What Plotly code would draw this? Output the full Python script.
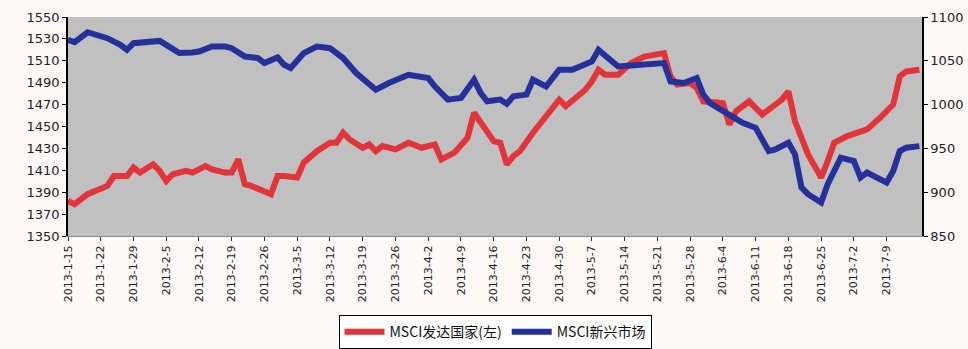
import plotly.graph_objects as go

# Trading-day index (0 = 2013-1-15) and values
dev_idx = [0, 1, 3, 5, 6, 7, 9, 10, 11, 13, 14, 15, 16, 18, 19, 21, 22, 24, 25, 26, 27, 28, 29, 31, 32, 33,
           35, 36, 38, 40, 41, 42, 43, 45, 46, 47, 48, 50, 52, 54, 56, 57, 59, 61, 62, 64, 65,
           66, 67, 68, 69, 71, 73, 74, 75, 76, 78, 79, 80, 81, 82, 84, 86, 88, 91, 92, 93, 95, 96, 97,
           100, 101, 102, 104, 106, 107, 109, 110, 111, 113, 115, 116, 117, 119, 122, 124, 126, 127, 128, 130]
dev_vals = [1382.1, 1379.1, 1388.2, 1392.7, 1395.7, 1404.8, 1404.8, 1412.5, 1407.9, 1415.5, 1409.4, 1400.3,
            1406.4, 1409.4, 1407.9, 1413.9, 1410.9, 1407.9, 1407.9, 1420.0, 1397.3, 1395.7, 1392.7, 1388.2,
            1404.8, 1404.8,
            1403.4, 1417.0, 1427.5, 1435.2, 1435.2, 1444.3, 1438.2, 1430.6, 1433.6, 1427.5, 1432.1, 1429.1,
            1435.2, 1430.6, 1433.6, 1420.0, 1426.1, 1439.7, 1462.5, 1445.7, 1436.6,
            1435.2, 1415.5, 1423.0, 1427.5, 1444.3, 1459.4, 1467.0, 1474.5, 1468.5, 1479.1, 1483.6, 1491.2,
            1501.8, 1497.3, 1497.3, 1507.9, 1513.9, 1517.0, 1495.7, 1488.2, 1489.7, 1485.2, 1473.0,
            1471.5, 1451.8, 1463.9, 1473.0, 1460.9, 1465.5, 1474.5, 1482.1, 1454.8, 1424.5, 1403.4, 1418.5,
            1435.2, 1441.2, 1447.3, 1457.9, 1470.0, 1495.7, 1500.3, 1501.8]

em_idx = [0, 1, 3, 5, 6, 8, 9, 10, 12, 14, 15, 17, 19, 20, 22, 24, 25, 27, 29, 30, 32, 33,
          34, 36, 38, 40, 42, 44, 47, 49, 52, 55, 56, 58, 60, 62, 63, 64, 66,
          67, 68, 70, 71, 73, 75, 77, 80, 81, 84, 87, 91, 92, 94, 96, 97,
          98, 101, 103, 105, 107, 108, 110, 111, 112, 113, 115, 116, 118, 120, 121, 122, 125, 126, 127, 128, 130]
em_vals = [1073.9, 1071.2, 1082.6, 1078.8, 1075.8, 1068.2, 1062.5, 1070.1, 1071.9, 1072.7, 1068.2, 1058.8,
           1059.4, 1060.6, 1066.3, 1066.3, 1064.4, 1054.9, 1053.1, 1047.4, 1053.8, 1045.5,
           1041.7, 1058.8, 1066.3, 1064.4, 1053.1, 1036.0, 1017.0, 1024.7, 1034.1, 1030.3, 1020.8, 1005.7,
           1007.6, 1028.4, 1013.3, 1003.8, 1005.7,
           1000.8, 1009.4, 1011.4, 1028.4, 1020.8, 1039.8, 1039.8, 1049.2, 1062.5, 1043.5, 1045.5, 1047.4,
           1026.5, 1024.7, 1030.3, 1011.4,
           1001.9, 988.6, 979.2, 973.5, 946.9, 948.9, 956.5, 943.2, 905.4, 897.7, 888.3, 909.1, 939.4,
           935.6, 916.7, 922.4, 911.0, 924.2, 946.9, 950.8, 952.6]

tick_idx = list(range(0, 130, 5))
tick_labels = ["2013-1-15", "2013-1-22", "2013-1-29", "2013-2-5", "2013-2-12", "2013-2-19", "2013-2-26",
               "2013-3-5", "2013-3-12", "2013-3-19", "2013-3-26", "2013-4-2", "2013-4-9", "2013-4-16",
               "2013-4-23", "2013-4-30", "2013-5-7", "2013-5-14", "2013-5-21", "2013-5-28", "2013-6-4",
               "2013-6-11", "2013-6-18", "2013-6-25", "2013-7-2", "2013-7-9"]

dev_name = "MSCI发达国家(左)"
em_name = "MSCI新兴市场"

fig = go.Figure()
fig.add_trace(go.Scatter(x=dev_idx, y=dev_vals, mode="lines", name=dev_name,
                         line=dict(color="#e2343a", width=6), yaxis="y"))
fig.add_trace(go.Scatter(x=em_idx, y=em_vals, mode="lines", name=em_name,
                         line=dict(color="#25309a", width=6), yaxis="y2"))

tick_font = dict(family="DejaVu Sans", size=13, color="#222222")
fig.update_layout(
    width=968, height=349,
    margin=dict(l=68, r=46, t=17, b=113, autoexpand=False),
    paper_bgcolor="#fefaf8",
    plot_bgcolor="#c0c0c0",
    showlegend=True,
    legend=dict(orientation="h", x=0.5, xanchor="center", yref="container", y=0.097, yanchor="top",
                bgcolor="#ffffff", bordercolor="#000000", borderwidth=1,
                font=dict(family="Noto Sans CJK SC", size=14, color="#111111"),
                itemwidth=40, tracegroupgap=0),
    xaxis=dict(range=[0, 130.4], tickmode="array", tickvals=tick_idx, ticktext=tick_labels,
               tickangle=-90, ticks="outside", ticklen=4, tickcolor="#333", automargin=False,
               tickfont=dict(family="DejaVu Sans", size=11, color="#222222"),
               showgrid=False, zeroline=False, showline=True, linecolor="#888888", linewidth=1),
    yaxis=dict(range=[1350, 1550], dtick=20, tick0=1350, ticks="outside", ticklen=4, tickcolor="#000",
               tickfont=tick_font, showgrid=False, zeroline=False, automargin=False,
               showline=True, linecolor="#000000", linewidth=1.5),
    yaxis2=dict(range=[850, 1100], dtick=50, tick0=850, overlaying="y", side="right",
                ticks="outside", ticklen=4, tickcolor="#000", tickfont=tick_font, automargin=False,
                showgrid=False, zeroline=False, showline=True, linecolor="#000000", linewidth=1.5),
)

fig.write_html("out.html")
